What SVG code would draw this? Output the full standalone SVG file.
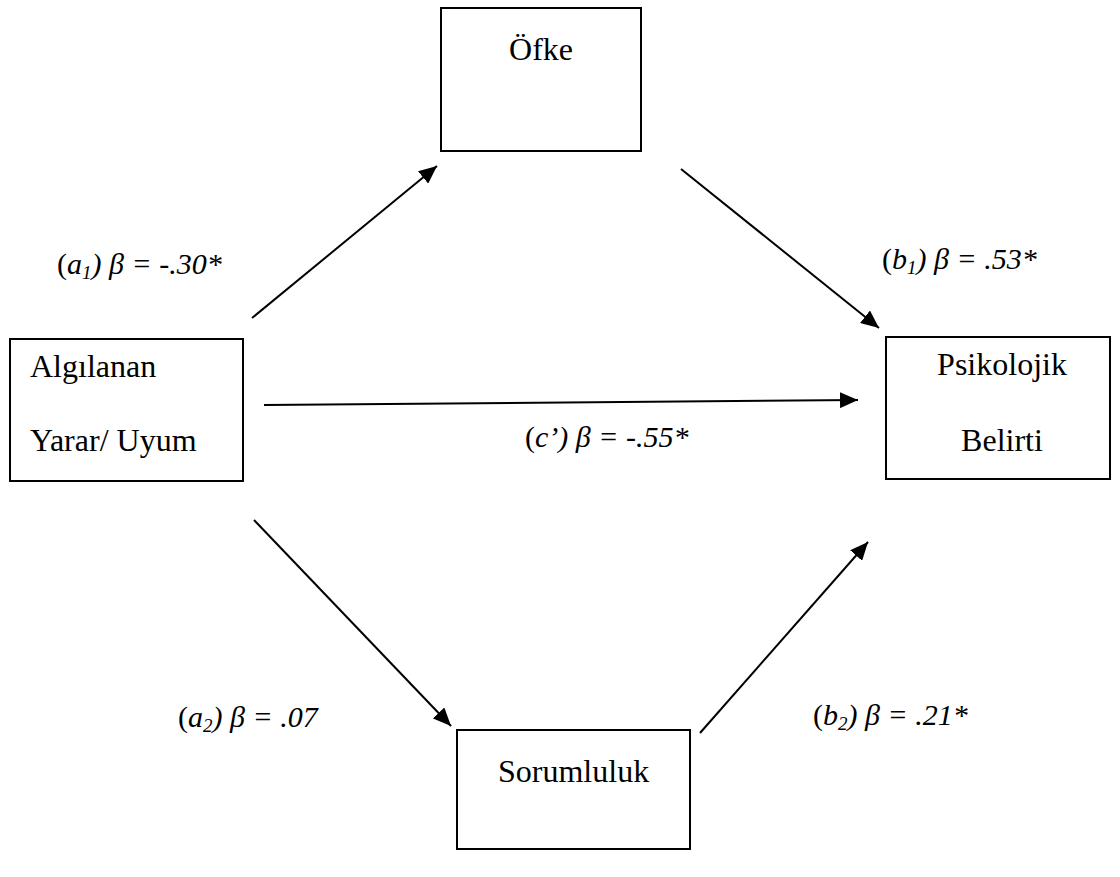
<svg xmlns="http://www.w3.org/2000/svg" width="1120" height="877" viewBox="0 0 1120 877">
<style>
.box{fill:#fff;stroke:#000;stroke-width:2}
.t{font-family:"Liberation Serif","Times New Roman",serif;font-size:32px;fill:#000}
.lbl{font-family:"Liberation Serif","Times New Roman",serif;font-size:30px;font-style:italic;fill:#000}
.ni{font-style:normal}
.conn{stroke:#000;stroke-width:2;fill:none;marker-end:url(#ah)}
</style>
<defs>
<marker id="ah" markerUnits="userSpaceOnUse" markerWidth="20" markerHeight="16" refX="18" refY="8" orient="auto">
<path d="M0,0 L18,8 L0,16 z" fill="#000"/>
</marker>
</defs>
<rect width="1120" height="877" fill="#fff"/>
<g id="ofke">
<rect class="box" x="441" y="8" width="200" height="143"/>
<text class="t" x="541" y="60" text-anchor="middle">Öfke</text>
</g>
<g id="algilanan">
<rect class="box" x="10" y="339" width="233" height="142"/>
<text class="t" x="30" y="377">Algılanan</text>
<text class="t" x="30" y="451">Yarar/ Uyum</text>
</g>
<g id="psikolojik">
<rect class="box" x="886" y="337" width="224" height="142"/>
<text class="t" x="1002" y="375" text-anchor="middle">Psikolojik</text>
<text class="t" x="1002" y="451" text-anchor="middle">Belirti</text>
</g>
<g id="sorumluluk">
<rect class="box" x="457" y="730" width="233" height="119"/>
<text class="t" x="498" y="782">Sorumluluk</text>
</g>
<g id="connectors">
<line class="conn" x1="252" y1="318" x2="437" y2="166"/>
<line class="conn" x1="681" y1="169" x2="879" y2="328"/>
<line class="conn" x1="264" y1="405" x2="858" y2="400"/>
<line class="conn" x1="254" y1="520" x2="451" y2="726"/>
<line class="conn" x1="700" y1="733" x2="868" y2="542"/>
</g>
<g id="labels">
<text class="lbl" x="57" y="274"><tspan class="ni">(</tspan>a<tspan font-size="19" dy="5">1</tspan><tspan dy="-5">) β = -.30*</tspan></text>
<text class="lbl" x="882" y="269"><tspan class="ni">(</tspan>b<tspan font-size="19" dy="5">1</tspan><tspan dy="-5">) β = .53*</tspan></text>
<text class="lbl" x="525" y="447"><tspan class="ni">(</tspan>c’) β = -.55*</text>
<text class="lbl" x="178" y="727"><tspan class="ni">(</tspan>a<tspan font-size="19" dy="5">2</tspan><tspan dy="-5">) β = .07</tspan></text>
<text class="lbl" x="813" y="725"><tspan class="ni">(</tspan>b<tspan font-size="19" dy="5">2</tspan><tspan dy="-5">) β = .21*</tspan></text>
</g>
</svg>
